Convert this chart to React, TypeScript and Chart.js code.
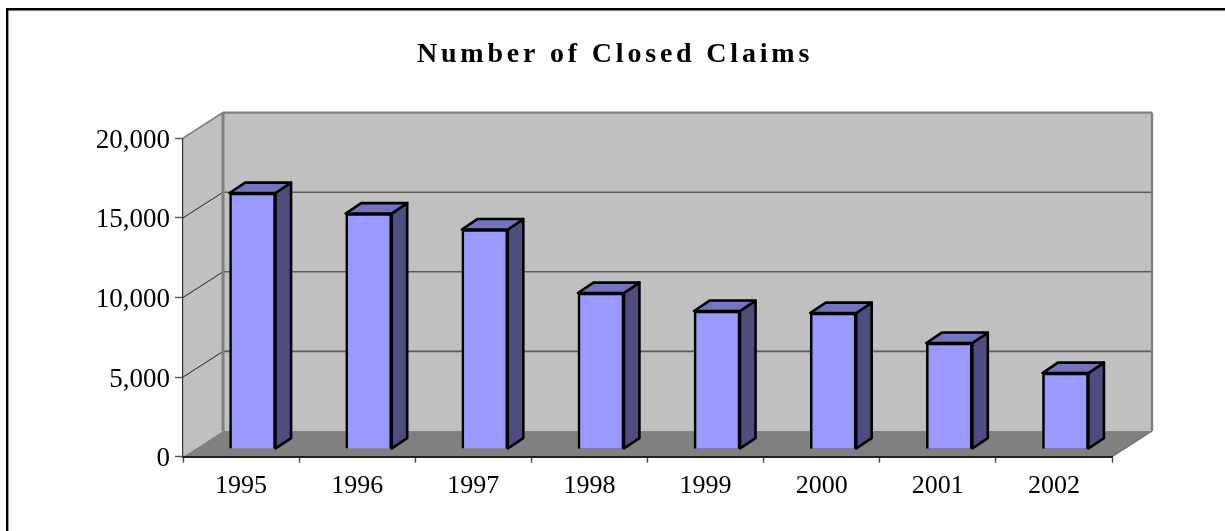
import React, { useEffect, useRef } from "react";
import { Chart, registerables } from "chart.js";

Chart.register(...registerables);

const categories = ["1995", "1996", "1997", "1998", "1999", "2000", "2001", "2002"];
const closedClaims = [16080, 14790, 13790, 9800, 8670, 8540, 6660, 4770];
const titleText = "Number of Closed Claims";
const yMax = 20000;
const yStep = 5000;

const W = 1225;
const H = 531;
const PLOT_LEFT = 183;
const PLOT_RIGHT = 1112;
const PLOT_TOP = 138.3;
const PLOT_BOTTOM = 456.7;
const DEPTH_X = 40;
const DEPTH_Y = 25.7;
const BAR_DX = 11.5;
const BAR_DY = 7.7;
const BAR_DEPTH_X = 15.5;
const BAR_DEPTH_Y = 10.4;
const TITLE_SHIFT = 59;
const LABEL_SHIFT_Y = 2.5;

const poly = (ctx: any, pts: number[][], fill: string | null, stroke?: string, lw?: number) => {
  ctx.beginPath();
  pts.forEach((p, i) => (i ? ctx.lineTo(p[0], p[1]) : ctx.moveTo(p[0], p[1])));
  ctx.closePath();
  if (fill) {
    ctx.fillStyle = fill;
    ctx.fill();
  }
  if (stroke) {
    ctx.strokeStyle = stroke;
    ctx.lineWidth = lw || 1;
    ctx.lineJoin = "round";
    ctx.stroke();
  }
};

const line = (ctx: any, x1: number, y1: number, x2: number, y2: number, c: string, lw: number) => {
  ctx.beginPath();
  ctx.moveTo(x1, y1);
  ctx.lineTo(x2, y2);
  ctx.strokeStyle = c;
  ctx.lineWidth = lw;
  ctx.stroke();
};

const scene3d = {
  id: "scene3d",
  beforeDraw(chart: any) {
    const { ctx, chartArea: a, scales } = chart;
    if (!chart.titleBlock.__spaced) {
      const orig = chart.titleBlock.draw.bind(chart.titleBlock);
      chart.titleBlock.draw = () => {
        chart.ctx.save();
        chart.ctx.letterSpacing = "3.8px";
        chart.ctx.translate(TITLE_SHIFT, 0);
        orig();
        chart.ctx.restore();
      };
      chart.titleBlock.__spaced = true;
      const origLabels = scales.y.drawLabels.bind(scales.y);
      scales.y.drawLabels = (area: any) => {
        chart.ctx.save();
        chart.ctx.translate(0, LABEL_SHIFT_Y);
        origLabels(area);
        chart.ctx.restore();
      };
    }
    ctx.save();
    ctx.fillStyle = "#fff";
    ctx.fillRect(0, 0, W, H);
    // outer frame: only top and left edges are visible
    ctx.fillStyle = "#c8c8c8";
    ctx.fillRect(8, 10, W - 8, 1);
    ctx.fillStyle = "#000";
    ctx.fillRect(6, 8, W - 6, 2.4);
    ctx.fillRect(6, 8, 2.4, H - 8);

    const bx0 = a.left + DEPTH_X;
    const bx1 = a.right + DEPTH_X;
    const by0 = a.top - DEPTH_Y;
    const by1 = a.bottom - DEPTH_Y;
    poly(ctx, [[a.left, a.top], [bx0, by0], [bx0, by1], [a.left, a.bottom]], "#c0c0c0");
    poly(ctx, [[bx0, by0], [bx1, by0], [bx1, by1], [bx0, by1]], "#c0c0c0");
    poly(ctx, [[a.left, a.bottom], [bx0, by1], [bx1, by1], [a.right, a.bottom]], "#808080");
    scales.y.ticks.forEach((t: any) => {
      const y = scales.y.getPixelForValue(t.value);
      if (t.value > 0 && t.value < yMax) {
        line(ctx, a.left, y, bx0, y - DEPTH_Y, "#222", 1);
        line(ctx, bx0, y - DEPTH_Y, bx1, y - DEPTH_Y, "#5a5a5a", 1.6);
      }
    });
    line(ctx, a.left, a.top, bx0, by0, "#808080", 1.8);
    line(ctx, bx0, by0, bx1, by0, "#808080", 2.2);
    line(ctx, bx0, by0, bx0, by1, "#808080", 3);
    line(ctx, bx1, by0, bx1, by1, "#808080", 2.4);
    line(ctx, a.right, a.bottom, bx1, by1, "#707070", 1.4);
    ctx.restore();
  },
  beforeDatasetsDraw(chart: any) {
    const { ctx } = chart;
    ctx.save();
    ctx.translate(BAR_DX, -BAR_DY);
    chart.getDatasetMeta(0).data.forEach((bar: any) => {
      const l = bar.x - bar.width / 2;
      const r = bar.x + bar.width / 2;
      const t = bar.y;
      const b = bar.base;
      poly(ctx, [[r, t], [r + BAR_DEPTH_X, t - BAR_DEPTH_Y], [r + BAR_DEPTH_X, b - BAR_DEPTH_Y], [r, b]], "#4d4d80", "#000", 2.6);
      poly(ctx, [[l, t], [l + BAR_DEPTH_X, t - BAR_DEPTH_Y], [r + BAR_DEPTH_X, t - BAR_DEPTH_Y], [r, t]], "#7373bf", "#000", 2.6);
    });
  },
  afterDatasetsDraw(chart: any) {
    chart.ctx.restore();
  },
};

export default function App() {
  const ref = useRef<HTMLCanvasElement | null>(null);
  useEffect(() => {
    const chart = new Chart(ref.current as HTMLCanvasElement, {
      type: "bar",
      data: {
        labels: categories,
        datasets: [
          {
            label: "Closed Claims",
            data: closedClaims,
            backgroundColor: "#9999ff",
            borderColor: "#000",
            borderWidth: 2.6,
            barThickness: 46,
            clip: false as any,
          },
        ],
      },
      options: {
        responsive: false,
        animation: false,
        layout: { padding: { top: 0, left: 0, right: W - PLOT_RIGHT, bottom: 0 } },
        plugins: {
          legend: { display: false },
          tooltip: { enabled: false },
          title: {
            display: true,
            text: titleText,
            color: "#000",
            font: { family: "'Liberation Serif'", size: 28, weight: "bold", lineHeight: 1 },
            padding: { top: 41, bottom: PLOT_TOP - 41 - 28 },
          },
        },
        scales: {
          x: {
            grid: { drawOnChartArea: false, drawTicks: true, tickLength: 6, tickColor: "#444", tickWidth: 1.4 },
            border: { color: "#222", width: 2 },
            ticks: {
              color: "#000",
              font: { family: "'Liberation Serif'", size: 26 },
              padding: 8,
              maxRotation: 0,
            },
            afterFit: (s: any) => {
              s.height = H - PLOT_BOTTOM;
            },
          },
          y: {
            min: 0,
            max: yMax,
            grid: { drawOnChartArea: false, drawTicks: true, tickLength: 8, tickColor: "#555", tickWidth: 1.4 },
            border: { color: "#333", width: 1.2 },
            ticks: {
              stepSize: yStep,
              color: "#000",
              font: { family: "'Liberation Serif'", size: 27 },
              padding: 5,
              callback: (v: any) => Number(v).toLocaleString("en-US"),
            },
            afterFit: (s: any) => {
              s.width = PLOT_LEFT;
            },
          },
        },
      },
      plugins: [scene3d],
    } as any);
    return () => chart.destroy();
  }, []);
  return (
    <div style={{ position: "absolute", left: 0, top: 0, width: W, height: H }}>
      <canvas ref={ref} width={W} height={H} style={{ display: "block" }} />
    </div>
  );
}
